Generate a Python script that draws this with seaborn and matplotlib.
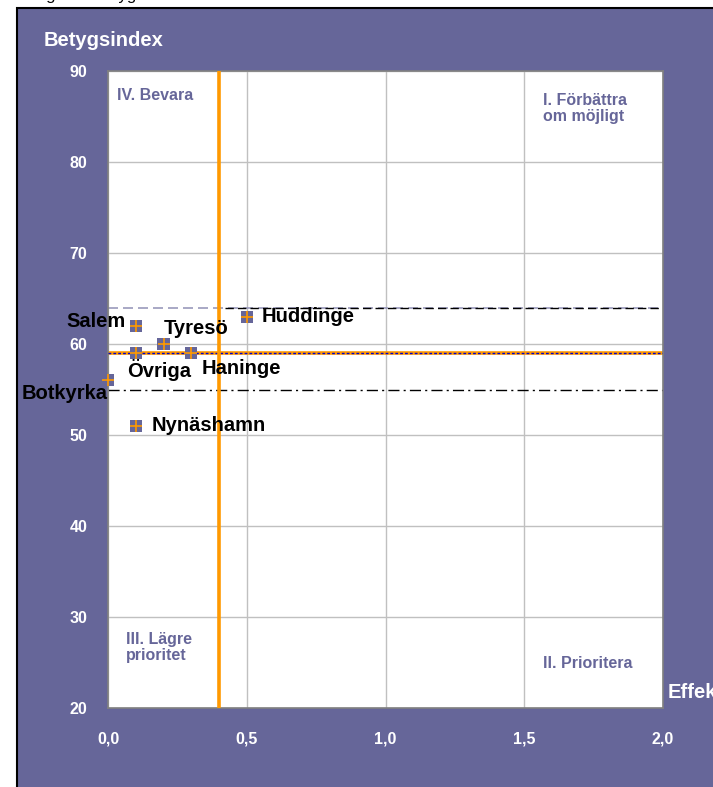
import numpy as np
import pandas as pd
import matplotlib
matplotlib.use("Agg")
import matplotlib.pyplot as plt
import seaborn as sns
from matplotlib.patches import Rectangle

# data
kommuner = ["Salem", "Tyresö", "Huddinge", "Övriga", "Haninge", "Botkyrka", "Nynäshamn"]
effekt = [0.1, 0.2, 0.5, 0.1, 0.3, 0.0, 0.1]
betyg = [62, 60, 63, 59, 59, 56, 51]
# label offsets in pixels (dx, dy, ha)
offsets = [(-10, 4, "right"), (0, 16, "left"), (15, 0, "left"), (-9, -17, "left"),
           (10, -15, "left"), (0, -13, "right"), (16, 0, "left")]

x_ticks = [0.0, 0.5, 1.0, 1.5, 2.0]
x_ticklabels = ["0,0", "0,5", "1,0", "1,5", "2,0"]
y_ticks = [20, 30, 40, 50, 60, 70, 80, 90]

effekt_ref = 0.4     # vertical orange line
betyg_medel = 59     # horizontal orange / blue line
betyg_hog = 64       # dashed line
betyg_lag = 55       # dash-dot line

purple = "#666699"
orange = "#ff9900"

df = pd.DataFrame({"kommun": kommuner, "effekt": effekt, "betyg": betyg})

sns.set_style("white")
plt.rcParams["font.family"] = ["Liberation Sans", "DejaVu Sans"]
plt.rcParams["font.weight"] = "bold"

fig = plt.figure(figsize=(7.13, 7.87), dpi=100)
fig.patches.append(Rectangle((17 / 713, -0.01), 1, 1.01 - 8 / 787, transform=fig.transFigure,
                             facecolor=purple, edgecolor="black", linewidth=1.5, zorder=-5))
fig.text(0.03, 1.006, "Diagram: Betygsindex och effekt", fontsize=12, color="black",
         va="center", fontweight="normal")

ax = fig.add_axes([108 / 713, 1 - 708 / 787, (663 - 108) / 713, (708 - 71) / 787])
ax.set_facecolor("white")

ax.set_xlim(0, 2)
ax.set_ylim(20, 90)
ax.set_xticks(x_ticks)
ax.set_xticklabels(x_ticklabels)
ax.set_yticks(y_ticks)
ax.tick_params(colors="white", labelsize=11.5, length=0)
ax.tick_params(axis="y", pad=15)
ax.tick_params(axis="x", pad=17)
for lab in ax.get_xticklabels() + ax.get_yticklabels():
    lab.set_fontweight("bold")
ax.grid(True, color="#c0c0c0", linewidth=1)
ax.set_axisbelow(True)
for s in ax.spines.values():
    s.set_color("#808080")
    s.set_linewidth(1.2)

# reference lines
ax.axhline(betyg_hog, color="#9999bb", linestyle=(0, (6, 3)), linewidth=1.2, zorder=2)
ax.plot([0.42, 2.0], [betyg_hog, betyg_hog], color="black", linestyle=(0, (6, 3)),
        linewidth=1, zorder=2)
ax.axhline(betyg_lag, color="black", linestyle=(0, (8, 3, 1.5, 3)), linewidth=1, zorder=2)
ax.axhline(betyg_medel, color=orange, linewidth=2.6, zorder=2)
ax.axhline(betyg_medel, color="#0000cc", linestyle=(0, (2, 1.5)), linewidth=1, zorder=3)
ax.axvline(effekt_ref, color=orange, linewidth=2.6, zorder=3)

sns.scatterplot(data=df, x="effekt", y="betyg", marker="s", s=75, color=purple,
                edgecolor="none", ax=ax, zorder=4, clip_on=False)
sns.scatterplot(data=df, x="effekt", y="betyg", marker="+", s=85, color=orange,
                linewidth=1.2, ax=ax, zorder=5, clip_on=False)
ax.set_xlabel("")
ax.set_ylabel("")

for name, x, y, (dx, dy, ha) in zip(kommuner, effekt, betyg, offsets):
    ax.annotate(name, (x, y), xytext=(dx, dy), textcoords="offset pixels",
                ha=ha, va="center", fontsize=14.5, fontweight="bold", color="black",
                zorder=6, annotation_clip=False)

# quadrant labels
q = dict(color=purple, fontsize=11.5, fontweight="bold", transform=ax.transAxes,
         linespacing=1.1)
ax.text(0.016, 0.962, "IV. Bevara", va="center", ha="left", **q)
ax.text(0.783, 0.966, "I. Förbättra\nom möjligt", va="top", ha="left", **q)
ax.text(0.032, 0.07, "III. Lägre\nprioritet", va="bottom", ha="left", **q)
ax.text(0.783, 0.07, "II. Prioritera", va="center", ha="left", **q)

fig.text(44 / 713, 1 - 40 / 787, "Betygsindex", color="white", fontsize=14.5,
         fontweight="bold", va="center", ha="left")
fig.text(668 / 713, 1 - 692 / 787, "Effekt", color="white", fontsize=14.5,
         fontweight="bold", va="center", ha="left",
         bbox=dict(facecolor=purple, edgecolor="none", pad=3))

fig.savefig("out.png", dpi=100)
